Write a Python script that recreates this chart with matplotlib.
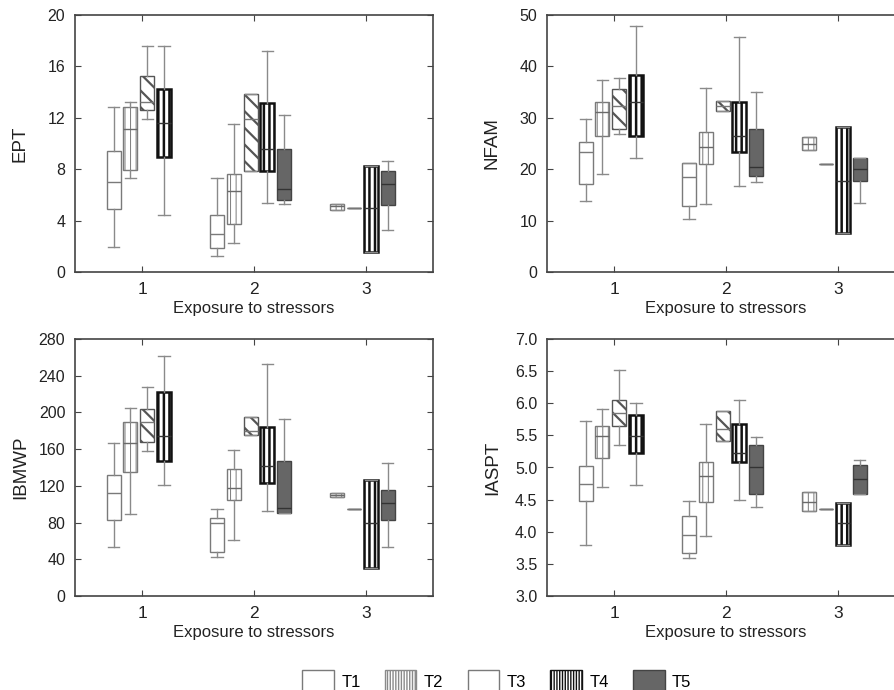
import matplotlib
matplotlib.use('Agg')
from matplotlib import pyplot as plt
from matplotlib.patches import Patch
import numpy as np

plt.rcParams['font.family'] = ['Liberation Sans', 'DejaVu Sans']

treatments = ['T1', 'T2', 'T3', 'T4', 'T5']
groups = [1, 2, 3]
xlabel = 'Exposure to stressors'

# which (group, treatment index) boxes exist, in drawing order
slot_group = [1, 1, 1, 1, 2, 2, 2, 2, 2, 3, 3, 3, 3]
slot_treat = [0, 1, 2, 3, 0, 1, 2, 3, 4, 1, 2, 3, 4]

# five-number summaries per slot: (whisker low, q1, median, q3, whisker high)
ept = [
    (1.95, 4.94, 6.97, 9.41, 12.87),
    (7.28, 7.90, 11.10, 12.87, 13.26),
    (11.89, 12.59, 13.20, 15.24, 17.55),
    (4.42, 8.92, 11.60, 14.23, 17.55),
    (1.25, 1.90, 2.94, 4.42, 7.28),
    (2.26, 3.72, 6.27, 7.62, 11.55),
    (7.88, 7.88, 11.91, 13.89, 13.89),
    (5.38, 7.88, 9.57, 13.19, 17.22),
    (5.33, 5.59, 6.48, 9.57, 12.25),
    (4.86, 4.86, 5.10, 5.33, 5.33),
    (4.97, 4.97, 4.97, 4.97, 4.97),
    (1.59, 1.59, 4.97, 8.27, 8.27),
    (3.30, 5.25, 6.81, 7.88, 8.61),
]
nfam = [
    (13.9, 17.2, 23.4, 25.2, 29.8),
    (19.0, 26.5, 31.2, 33.0, 37.3),
    (26.8, 27.8, 32.3, 35.7, 37.7),
    (22.2, 26.5, 33.0, 38.3, 47.8),
    (10.3, 12.9, 18.5, 21.3, 21.3),
    (13.2, 21.0, 24.3, 27.3, 35.8),
    (31.3, 31.3, 32.2, 33.2, 33.2),
    (16.8, 23.4, 26.5, 33.0, 45.7),
    (17.6, 18.7, 20.5, 27.8, 35.0),
    (23.7, 23.7, 25.0, 26.3, 26.3),
    (21.1, 21.1, 21.1, 21.1, 21.1),
    (7.5, 7.5, 17.8, 28.2, 28.2),
    (13.5, 17.8, 20.0, 22.1, 22.1),
]
ibmwp = [
    (53.5, 83.0, 112.0, 132.0, 167.0),
    (89.0, 135.0, 167.0, 190.0, 205.0),
    (158.0, 167.5, 190.0, 204.0, 228.0),
    (120.5, 147.5, 174.0, 222.0, 261.0),
    (42.6, 47.7, 80.0, 84.5, 95.0),
    (61.0, 105.0, 118.0, 138.0, 159.5),
    (175.5, 175.5, 180.0, 194.5, 194.5),
    (92.5, 122.7, 141.7, 184.6, 253.0),
    (90.3, 90.3, 95.8, 147.5, 192.6),
    (107.4, 107.4, 110.0, 112.5, 112.5),
    (94.3, 94.3, 94.3, 94.3, 94.3),
    (31.0, 31.0, 80.0, 126.0, 126.0),
    (53.5, 82.3, 100.9, 115.4, 145.0),
]
iaspt = [
    (3.79, 4.48, 4.74, 5.03, 5.72),
    (4.69, 5.15, 5.49, 5.64, 5.91),
    (5.35, 5.64, 5.85, 6.05, 6.51),
    (4.72, 5.22, 5.49, 5.81, 6.01),
    (3.59, 3.67, 3.95, 4.25, 4.48),
    (3.93, 4.46, 4.87, 5.08, 5.67),
    (5.41, 5.41, 5.60, 5.88, 5.88),
    (4.49, 5.09, 5.22, 5.67, 6.05),
    (4.39, 4.59, 5.00, 5.35, 5.47),
    (4.32, 4.32, 4.47, 4.62, 4.62),
    (4.35, 4.35, 4.35, 4.35, 4.35),
    (3.79, 3.79, 4.14, 4.44, 4.44),
    (4.58, 4.58, 4.82, 5.04, 5.12),
]

panels = [
    ('EPT', ept, np.arange(0, 21, 4), '%d'),
    ('NFAM', nfam, np.arange(0, 51, 10), '%d'),
    ('IBMWP', ibmwp, np.arange(0, 281, 40), '%d'),
    ('IASPT', iaspt, np.arange(3.0, 7.01, 0.5), '%.1f'),
]

# box appearance per treatment
styles = [
    dict(facecolor='white', edgecolor='#7a7a7a', hatch=None, hlw=0.8, lw=1.0, med='#7a7a7a'),
    dict(facecolor='white', edgecolor='#7a7a7a', hatch='|||', hlw=0.7, lw=1.0, med='#6a6a6a'),
    dict(facecolor='white', edgecolor='#555555', hatch='\\\\', hlw=1.6, lw=1.0, med='#777777'),
    dict(facecolor='white', edgecolor='#111111', hatch='|||', hlw=1.8, lw=1.8, med='#333333'),
    dict(facecolor='#666666', edgecolor='#444444', hatch=None, hlw=0.8, lw=1.0, med='#333333'),
]

W, H = 895, 690
fig = plt.figure(figsize=(W / 100, H / 100), dpi=100)
rects = [(75, 15), (547, 15), (75, 339), (547, 339)]
ax_w, ax_h = 358, 257
step = 0.15
shift = -0.03


def slot_positions():
    pos = []
    for i, g in enumerate(slot_group):
        members = [j for j, gg in enumerate(slot_group) if gg == g]
        k = members.index(i)
        pos.append(g + shift + (k - (len(members) - 1) / 2) * step)
    return pos


positions = slot_positions()

for (left, top), (name, stats, yticks, fmt) in zip(rects, panels):
    ax = fig.add_axes([left / W, 1 - (top + ax_h) / H, ax_w / W, ax_h / H])
    for t, st in enumerate(styles):
        idx = [i for i, tt in enumerate(slot_treat) if tt == t]
        if not idx:
            continue
        bstats = []
        for i in idx:
            lo, q1, med, q3, hi = stats[i]
            bstats.append(dict(whislo=lo, q1=q1, med=med, q3=q3, whishi=hi, fliers=[]))
        res = ax.bxp(
            bstats,
            positions=[positions[i] for i in idx],
            widths=0.125,
            capwidths=0.1,
            patch_artist=True,
            showfliers=False,
            boxprops=dict(facecolor=st['facecolor'], edgecolor=st['edgecolor'],
                          linewidth=st['lw']),
            medianprops=dict(color=st['med'], linewidth=1.0),
            whiskerprops=dict(color='#8a8a8a', linewidth=1.0),
            capprops=dict(color='#8a8a8a', linewidth=1.0),
            manage_ticks=False)
        for box in res['boxes']:
            if st['hatch']:
                box.set_hatch(st['hatch'])
                if hasattr(box, 'set_hatch_linewidth'):
                    box.set_hatch_linewidth(st['hlw'])
                if hasattr(box, 'set_hatchcolor'):
                    box.set_hatchcolor(st['edgecolor'])

    ax.set_xlim(0.4, 3.6)
    ax.set_ylim(yticks[0], yticks[-1])
    ax.set_xticks(groups)
    ax.set_xticklabels([str(g) for g in groups])
    ax.set_yticks(yticks)
    ax.set_yticklabels([fmt % v for v in yticks])
    ax.tick_params(direction='in', top=True, right=True, length=4, width=0.8,
                   colors='#444444', labelcolor='#222222', labelsize=11.5)
    ax.tick_params(axis='x', pad=7, labelsize=12.5)
    ax.tick_params(axis='y', pad=7)
    for sp in ax.spines.values():
        sp.set_color('#444444')
        sp.set_linewidth(1.2)
    ax.set_xlabel(xlabel, fontsize=12, color='#222222', labelpad=3)
    ax.set_ylabel(name, fontsize=13.5, color='#222222')
    lab_x = 29 if left < 200 else 501
    ax.yaxis.set_label_coords((lab_x - left) / ax_w, 0.5)

handles = []
for t, st in enumerate(styles):
    if t == 1:
        p = Patch(facecolor='white', edgecolor='#8a8a8a', hatch='||||||', linewidth=1.0)
    elif t == 3:
        p = Patch(facecolor='white', edgecolor='#111111', hatch='||||||', linewidth=1.0)
    elif t == 2:
        p = Patch(facecolor='white', edgecolor='#7a7a7a', linewidth=1.0)
    else:
        p = Patch(facecolor=st['facecolor'], edgecolor=st['edgecolor'], linewidth=st['lw'])
    if hasattr(p, 'set_hatch_linewidth'):
        p.set_hatch_linewidth(0.9)
    handles.append(p)
fig.legend(handles, treatments, loc='upper center', bbox_to_anchor=(0.555, 1 - 658 / H),
           ncol=5, frameon=False, handlelength=1.9, handleheight=1.9,
           handletextpad=0.45, columnspacing=1.45, fontsize=12, borderpad=0.2)

plt.savefig('out.png', dpi=100)
